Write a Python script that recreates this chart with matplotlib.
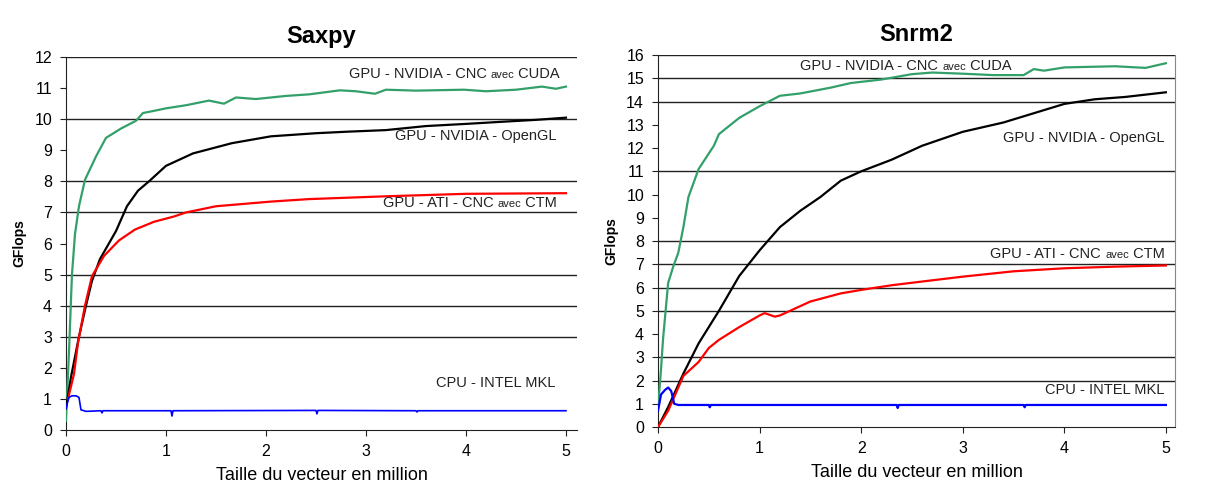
#!/bin/python3
# -*- coding: utf-8 -*-
"""
Saxpy / Snrm2 : GFlops selon la taille du vecteur
"""

#################################################
#     Libraries
#################################################
import numpy as np
import matplotlib
matplotlib.use( "Agg" )
import matplotlib.pyplot as plt
from matplotlib.offsetbox import TextArea, HPacker, AnnotationBbox

plt.rcParams[ "font.family" ] = [ "Liberation Sans", "DejaVu Sans" ]

#################################################
#     Data
#################################################
# Saxpy
saxpy_cuda_x = [ 0.0, 0.03, 0.06, 0.09, 0.13, 0.19, 0.3, 0.4, 0.55, 0.7, 0.77, 0.85, 1.0, 1.2, 1.43, 1.58, 1.7, 1.9, 2.2, 2.43, 2.74, 2.9, 3.09, 3.2, 3.5, 3.98, 4.2, 4.5, 4.76, 4.9, 5.0 ]
saxpy_cuda_y = [ 0.3, 2.5, 5.0, 6.3, 7.2, 8.05, 8.8, 9.4, 9.7, 9.95, 10.2, 10.25, 10.35, 10.45, 10.6, 10.5, 10.7, 10.65, 10.75, 10.8, 10.93, 10.9, 10.82, 10.95, 10.92, 10.95, 10.9, 10.95, 11.05, 10.98, 11.05 ]

saxpy_ogl_x = [ 0.0, 0.05, 0.13, 0.2, 0.26, 0.34, 0.5, 0.61, 0.72, 0.83, 1.0, 1.27, 1.66, 2.05, 2.5, 2.82, 3.2, 3.6, 4.0, 4.37, 4.7, 5.0 ]
saxpy_ogl_y = [ 0.7, 1.7, 3.0, 4.0, 4.8, 5.5, 6.4, 7.2, 7.7, 8.0, 8.5, 8.9, 9.23, 9.45, 9.55, 9.6, 9.65, 9.78, 9.85, 9.92, 9.98, 10.05 ]

saxpy_ati_x = [ 0.02, 0.08, 0.12, 0.19, 0.26, 0.38, 0.53, 0.69, 0.88, 1.08, 1.2, 1.5, 2.05, 2.43, 3.2, 4.0, 5.0 ]
saxpy_ati_y = [ 1.0, 1.8, 2.8, 4.0, 4.95, 5.6, 6.1, 6.45, 6.7, 6.87, 7.0, 7.2, 7.35, 7.43, 7.52, 7.6, 7.62 ]

saxpy_cpu_x = [ 0.0, 0.03, 0.06, 0.1, 0.13, 0.15, 0.2, 0.35, 0.36, 0.37, 1.05, 1.06, 1.07, 2.5, 2.51, 2.52, 3.5, 3.51, 3.52, 5.0 ]
saxpy_cpu_y = [ 0.7, 1.05, 1.1, 1.1, 1.05, 0.65, 0.6, 0.62, 0.55, 0.62, 0.62, 0.45, 0.62, 0.63, 0.52, 0.63, 0.62, 0.58, 0.62, 0.62 ]

# Snrm2
snrm2_cuda_x = [ 0.0, 0.03, 0.05, 0.1, 0.15, 0.2, 0.25, 0.3, 0.4, 0.55, 0.6, 0.8, 1.0, 1.2, 1.4, 1.7, 1.9, 2.2, 2.5, 2.7, 3.0, 3.3, 3.6, 3.7, 3.8, 4.0, 4.5, 4.8, 5.0 ]
snrm2_cuda_y = [ 0.8, 2.5, 3.8, 6.2, 6.9, 7.5, 8.6, 9.9, 11.1, 12.1, 12.6, 13.3, 13.8, 14.25, 14.35, 14.6, 14.8, 14.95, 15.18, 15.25, 15.2, 15.14, 15.14, 15.4, 15.33, 15.47, 15.52, 15.45, 15.65 ]

snrm2_ogl_x = [ 0.0, 0.1, 0.25, 0.4, 0.6, 0.8, 1.0, 1.2, 1.4, 1.6, 1.8, 2.0, 2.3, 2.6, 3.0, 3.4, 3.7, 4.0, 4.3, 4.6, 5.0 ]
snrm2_ogl_y = [ 0.0, 0.86, 2.3, 3.6, 5.0, 6.5, 7.6, 8.6, 9.3, 9.9, 10.6, 11.0, 11.5, 12.1, 12.7, 13.1, 13.5, 13.9, 14.1, 14.2, 14.4 ]

snrm2_ati_x = [ 0.0, 0.1, 0.2, 0.25, 0.4, 0.5, 0.6, 0.8, 1.0, 1.05, 1.15, 1.2, 1.3, 1.5, 1.8, 2.0, 2.3, 2.6, 3.0, 3.5, 4.0, 4.5, 5.0 ]
snrm2_ati_y = [ 0.0, 0.7, 1.7, 2.2, 2.8, 3.4, 3.75, 4.3, 4.8, 4.9, 4.75, 4.8, 5.0, 5.4, 5.75, 5.9, 6.1, 6.26, 6.47, 6.7, 6.83, 6.9, 6.95 ]

snrm2_cpu_x = [ 0.0, 0.03, 0.07, 0.1, 0.13, 0.16, 0.2, 0.5, 0.51, 0.52, 2.35, 2.36, 2.37, 3.6, 3.61, 3.62, 5.0 ]
snrm2_cpu_y = [ 0.7, 1.4, 1.6, 1.7, 1.55, 1.0, 0.95, 0.95, 0.85, 0.95, 0.95, 0.82, 0.95, 0.95, 0.85, 0.95, 0.95 ]

saxpy_grid = [ 3, 4, 5, 7, 8, 10, 12 ]
snrm2_grid = [ 2, 3, 5, 6, 7, 8, 11, 14, 15, 16 ]

#################################################
#     label_parts
#################################################
def label_parts( ax, x, y, parts ):
    """
    Right-aligned label made of pieces, the small "avec" included.
    """
    boxes = [ TextArea( txt, textprops = dict( fontsize = size, color = "#222222" ) ) for txt, size in parts ]
    pack = HPacker( children = boxes, align = "baseline", pad = 0, sep = 0 )
    ab = AnnotationBbox( pack, ( x, y ), xycoords = "data", box_alignment = ( 1, 0.5 ), frameon = False, pad = 0 )
    ax.add_artist( ab )

#################################################
#     setup_axes
#################################################
def setup_axes( ax, title, ymax, grid, xmax, right_spine ):
    ax.set_title( title, fontsize = 17, fontweight = "bold", pad = 10 )
    ax.set_xlim( 0, xmax )
    ax.set_ylim( 0, ymax )
    ax.set_xticks( range( 0, 6 ) )
    ax.set_yticks( range( 0, ymax + 1 ) )
    for g in grid:
        ax.axhline( g, color = "#222222", lw = 1.0, zorder = 1 )
    ax.spines[ "top" ].set_visible( False )
    ax.spines[ "right" ].set_visible( right_spine )
    ax.spines[ "right" ].set_color( "#888888" )
    ax.spines[ "left" ].set_color( "#222222" )
    ax.spines[ "bottom" ].set_color( "#222222" )
    ax.tick_params( labelsize = 11.5, length = 4, color = "#222222", pad = 6 )
    ax.set_xlabel( "Taille du vecteur en million", fontsize = 13, labelpad = 6 )
    ax.set_ylabel( "GFlops", fontsize = 10, fontweight = "bold", labelpad = 6 )

#################################################
#     Figure
#################################################
fig = plt.figure( figsize = ( 12.06, 4.92 ), dpi = 100 )
ax1 = fig.add_axes( [ 0.0547, 0.126, 0.4237, 0.758 ] )
ax2 = fig.add_axes( [ 0.5456, 0.132, 0.4287, 0.756 ] )

green = "#33a06a"
lw = 1.6
big, small = 10.5, 8

setup_axes( ax1, "Saxpy", 12, saxpy_grid, 5.11, False )
ax1.plot( saxpy_cuda_x, saxpy_cuda_y, color = green, lw = lw, zorder = 3 )
ax1.plot( saxpy_ogl_x, saxpy_ogl_y, color = "black", lw = lw, zorder = 3 )
ax1.plot( saxpy_ati_x, saxpy_ati_y, color = "red", lw = lw, zorder = 3 )
ax1.plot( saxpy_cpu_x, saxpy_cpu_y, color = "blue", lw = 1.2, zorder = 3 )
label_parts( ax1, 4.94, 11.45, [ ( "GPU - NVIDIA - CNC ", big ), ( "avec", small ), ( " CUDA", big ) ] )
label_parts( ax1, 4.91, 9.46, [ ( "GPU - NVIDIA - OpenGL", big ) ] )
label_parts( ax1, 4.91, 7.3, [ ( "GPU - ATI - CNC ", big ), ( "avec", small ), ( " CTM", big ) ] )
label_parts( ax1, 4.89, 1.51, [ ( "CPU - INTEL MKL", big ) ] )

setup_axes( ax2, "Snrm2", 16, snrm2_grid, 5.09, True )
ax2.plot( snrm2_cuda_x, snrm2_cuda_y, color = green, lw = lw, zorder = 3 )
ax2.plot( snrm2_ogl_x, snrm2_ogl_y, color = "black", lw = lw, zorder = 3 )
ax2.plot( snrm2_ati_x, snrm2_ati_y, color = "red", lw = lw, zorder = 3 )
ax2.plot( snrm2_cpu_x, snrm2_cpu_y, color = "blue", lw = 1.6, zorder = 3 )
label_parts( ax2, 3.48, 15.53, [ ( "GPU - NVIDIA - CNC ", big ), ( "avec", small ), ( " CUDA", big ) ] )
label_parts( ax2, 4.99, 12.43, [ ( "GPU - NVIDIA - OpenGL", big ) ] )
label_parts( ax2, 4.99, 7.44, [ ( "GPU - ATI - CNC ", big ), ( "avec", small ), ( " CTM", big ) ] )
label_parts( ax2, 4.99, 1.6, [ ( "CPU - INTEL MKL", big ) ] )

fig.savefig( "out.png", dpi = 100 )
